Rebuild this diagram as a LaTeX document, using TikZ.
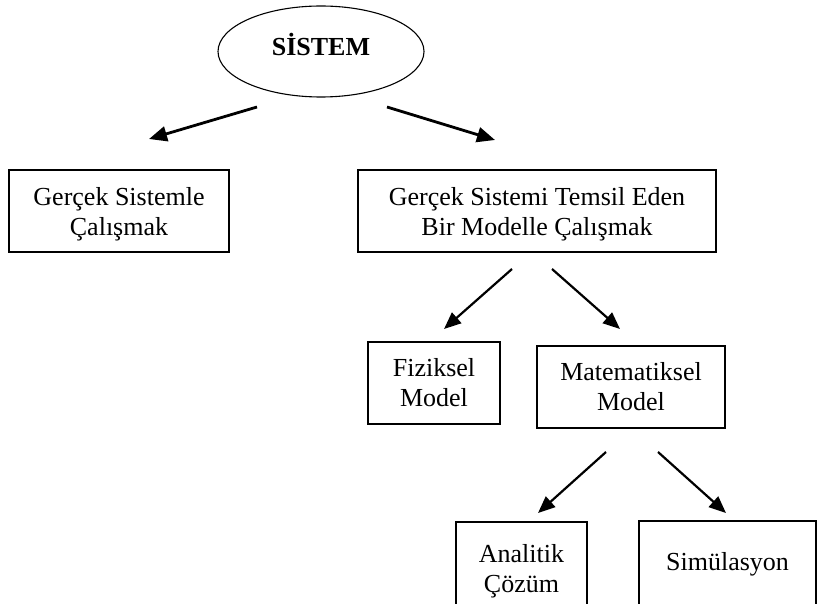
\documentclass[tikz,border=0pt]{standalone}
\usepackage{fontspec}
\setmainfont{Liberation Serif}
\usetikzlibrary{arrows.meta,shapes.geometric}
\newcommand{\topstrut}{\rule{0pt}{25pt}}
\begin{document}
\begin{tikzpicture}[x=1pt,y=-1pt,
  txt/.style={font=\fontsize{26}{30}\selectfont},
  box/.style={draw, rectangle, line width=1.6pt, align=center, inner sep=0pt, txt},
  arr/.style={line width=2.2pt, -{Triangle[length=17pt,width=14pt]}},
  toparr/.style={line width=2.8pt, -{Triangle[length=18pt,width=15pt]}}
]
\useasboundingbox[fill=white] (0,0) rectangle (818,604);
% nodes
\node[draw, ellipse, line width=1.1pt, minimum width=206pt, minimum height=91pt,
      inner sep=0pt, font=\bfseries\fontsize{26}{30}\selectfont, text depth=15pt] (sys) at (321,51.5) {SİSTEM};
\node[box, minimum width=220pt, minimum height=82pt] (real) at (119,211) {\topstrut Gerçek Sistemle\\Çalışmak};
\node[box, minimum width=358pt, minimum height=82pt] (model) at (537,211) {\topstrut Gerçek Sistemi Temsil Eden\\Bir Modelle Çalışmak};
\node[box, line width=1.4pt, minimum width=132pt, minimum height=82pt] (fiz) at (434,383) {Fiziksel\\Model};
\node[box, line width=1.4pt, minimum width=188pt, minimum height=82pt] (mat) at (631,387) {Matematiksel\\Model};
\node[box, line width=1.4pt, minimum width=131pt, minimum height=99pt] (ana) at (521.5,571.5) {Analitik\\Çözüm};
\node[box, line width=1.4pt, minimum width=177pt, minimum height=86pt] (sim) at (727.5,564) {Simülasyon};
% connector end points
\coordinate (a1s) at (257,107); \coordinate (a1e) at (149,139);
\coordinate (a2s) at (387,107); \coordinate (a2e) at (495,140);
\coordinate (a3s) at (512,269); \coordinate (a3e) at (444,329);
\coordinate (a4s) at (552,269); \coordinate (a4e) at (620,329);
\coordinate (a5s) at (606,452); \coordinate (a5e) at (538,513);
\coordinate (a6s) at (658,452); \coordinate (a6e) at (726,513);
% connectors
\draw[toparr] (a1s) -- (a1e);
\draw[toparr] (a2s) -- (a2e);
\draw[arr] (a3s) -- (a3e);
\draw[arr] (a4s) -- (a4e);
\draw[arr] (a5s) -- (a5e);
\draw[arr] (a6s) -- (a6e);
\end{tikzpicture}
\end{document}
